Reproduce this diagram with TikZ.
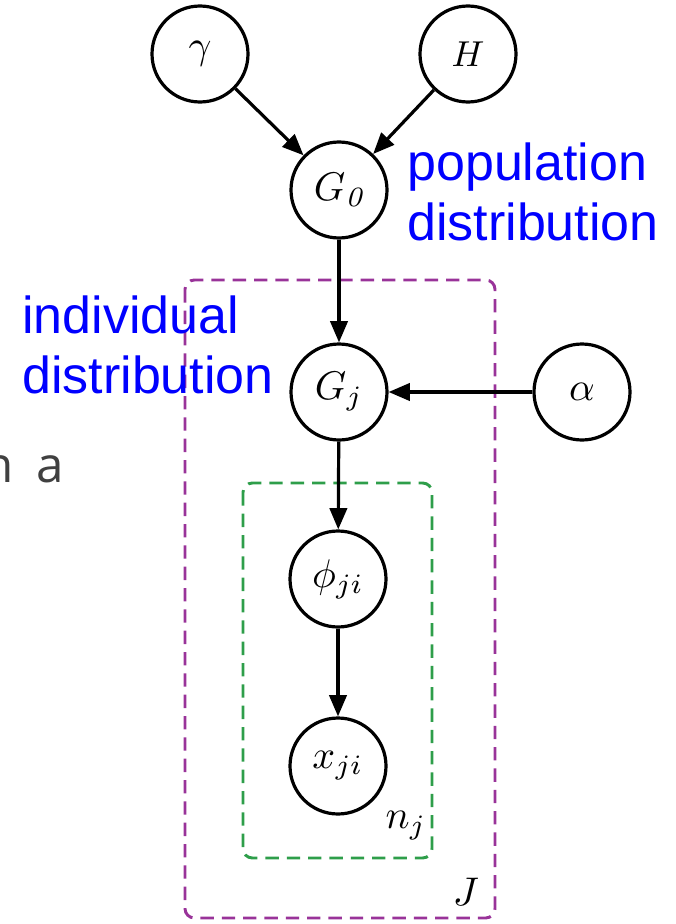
\documentclass[tikz,border=0pt]{standalone}
\usepackage{fontspec}
\newfontfamily\blue{Liberation Sans}
\newfontfamily\slide{Open Sans}
\usetikzlibrary{arrows.meta}
\definecolor{plateP}{HTML}{993399}
\definecolor{plateG}{HTML}{2E9E4A}
\definecolor{lblue}{HTML}{0000FF}
\newcommand\mlab[2][3.0]{\scalebox{#1}{$#2$}}
\tikzset{
  var/.style={circle, draw, line width=2.4pt, minimum size=72pt, inner sep=0pt},
  arr/.style={line width=2.4pt, -{Triangle[length=16pt,width=13pt]}},
  plate/.style={line width=2.2pt, dash pattern=on 10pt off 6pt, rounded corners=7pt},
  desc/.style={text=lblue, font=\blue\fontsize{39}{45}\selectfont, align=left, inner sep=0pt},
  platelbl/.style={inner sep=0pt}
}
\begin{document}
\begin{tikzpicture}[x=0.75pt,y=-0.75pt]
\useasboundingbox (0,0) rectangle (675,924);
\clip (0,0) rectangle (675,924);
% plates
\draw[plate, plateP] (185,280) rectangle (495,918);
\draw[plate, plateG] (243,483) rectangle (432,858);
% nodes
\node[var] (gamma) at (200,54) {\mlab{\gamma}};
\node[var] (H) at (468,54) {\mlab[2.7]{H}};
\node[var] (G0) at (339,190) {\mlab{G_{\mathit{0}}}};
\node[var] (Gj) at (339,392) {\mlab{G_j}};
\node[var] (alpha) at (582,392) {\mlab{\alpha}};
\node[var] (phi) at (338,579) {\mlab{\phi_{ji}}};
\node[var] (x) at (338,766) {\mlab{x_{ji}}};
% plate labels
\node[platelbl] (J) at (466,892) {\mlab{J}};
\node[platelbl] (nj) at (406,826) {\mlab{n_j}};
% edges
\draw[arr] (gamma) -- (G0);
\draw[arr] (H) -- (G0);
\draw[arr] (G0) -- (Gj);
\draw[arr] (alpha) -- (Gj);
\draw[arr] (Gj) -- (phi);
\draw[arr] (phi) -- (x);
% descriptions
\node[desc, anchor=north west] (pop) at (407,143) {population\\distribution};
\node[desc, anchor=north west] (ind) at (22,296) {individual\\distribution};
% slide fragment
\node[font=\slide\fontsize{37}{40}\selectfont, text=black!75, anchor=base east, inner sep=0pt] (frag) at (64,482) {n\hspace{0.45em}a};
\end{tikzpicture}
\end{document}
